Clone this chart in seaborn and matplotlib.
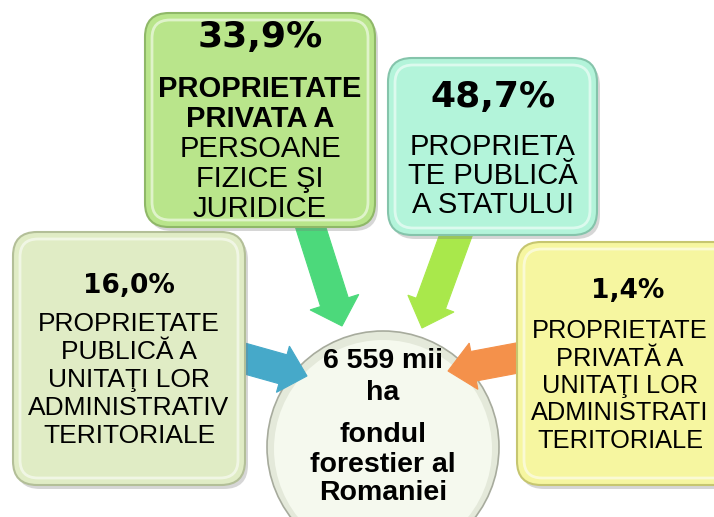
"""
Structura proprietatii fondului forestier al Romaniei - diagrama cu casete si sageti.
"""

import matplotlib.pyplot as plt
import seaborn as sns
from matplotlib.patches import FancyBboxPatch, FancyArrow, Ellipse

OUT_PATH = "out.png"

# data
percentages = ["33,9%", "48,7%", "16,0%", "1,4%"]
box_lines = [
    ["PROPRIETATE", "PRIVATA A", "PERSOANE", "FIZICE ŞI", "JURIDICE"],
    ["PROPRIETA", "TE PUBLICĂ", "A STATULUI"],
    ["PROPRIETATE", "PUBLICĂ A", "UNITAŢI LOR", "ADMINISTRATIV", "TERITORIALE"],
    ["PROPRIETATE", "PRIVATĂ A", "UNITAŢI LOR", "ADMINISTRATI", "TERITORIALE"],
]
bold_lines = [2, 0, 0, 0]   # how many leading lines are bold in each box
center_lines = ["6 559 mii", "ha", "fondul", "forestier al", "Romaniei"]

# layout (pixels, y downwards)
box_xy = [(145, 13, 230, 214), (388, 58, 209, 177), (13, 232, 232, 253), (517, 242, 226, 243)]
text_cx = [260, 492.5, 129, 620]
box_colors = ["#b9e58b", "#b3f4da", "#e0ecc5", "#f6f6a0"]
box_edges = ["#8fb868", "#85c4ab", "#b3bf98", "#c6c670"]
pct_base = [47, 107, 293, 298]
pct_size = [26, 26, 19, 19]
line_base = [97, 155, 331, 338]
line_step = [30, 29, 28, 27.5]
line_size = [21, 21, 19, 18.3]

arrows = [  # tail, tip, color, shaft width, head width, head length
    ((302, 200), (342, 326), "#4cd97b", 29, 51, 25),
    ((464, 213), (422, 328), "#a9e84b", 31, 49, 26),
    ((225, 353), (307, 376), "#46a9c9", 30, 48, 25),
    ((560, 350), (448, 371), "#f4914b", 30, 47, 26),
]
center_base = [368, 400, 442, 472, 500]

sns.set_theme(style="white")
plt.rcParams["font.family"] = ["Liberation Sans", "DejaVu Sans"]
plt.rcParams["text.color"] = "black"

fig = plt.figure(figsize=(7.14, 5.17), dpi=100)
ax = fig.add_axes([0, 0, 1, 1])
ax.set_xlim(0, 714)
ax.set_ylim(517, 0)
ax.axis("off")

# central circle
ax.add_patch(Ellipse((383, 447), 232, 232, facecolor="#e4e9da", edgecolor="#a7ab9d", lw=1.2, zorder=1))
ax.add_patch(Ellipse((383, 449), 218, 218, facecolor="#f5f9ee", edgecolor="none", zorder=1))
for txt, yb in zip(center_lines, center_base):
    ax.text(383, yb, txt, ha="center", va="baseline", fontsize=20.5, fontweight="bold",
            color="black", zorder=5)

# arrows
for (x0, y0), (x1, y1), col, w, hw, hl in arrows:
    ax.add_patch(FancyArrow(x0, y0, x1 - x0, y1 - y0, width=w, head_width=hw, head_length=hl,
                            length_includes_head=True, facecolor=col, edgecolor=col, lw=0.8, zorder=2))

# boxes
for i, (x, y, w, h) in enumerate(box_xy):
    ax.add_patch(FancyBboxPatch((x + 3, y + 4), w, h, boxstyle="round,pad=0,rounding_size=24",
                                facecolor="#7a7a7a", alpha=0.3, edgecolor="none", zorder=3))
    ax.add_patch(FancyBboxPatch((x, y), w, h, boxstyle="round,pad=0,rounding_size=24",
                                facecolor=box_colors[i], edgecolor=box_edges[i], lw=1.5, zorder=3))
    ax.add_patch(FancyBboxPatch((x + 7, y + 7), w - 14, h - 14, boxstyle="round,pad=0,rounding_size=18",
                                facecolor="none", edgecolor="white", alpha=0.55, lw=2, zorder=3))

    cx = text_cx[i]
    ax.text(cx + (8 if i == 3 else 0), pct_base[i], percentages[i], ha="center", va="baseline",
            fontsize=pct_size[i], fontweight="bold", family="DejaVu Sans", color="black", zorder=5)
    for j, line in enumerate(box_lines[i]):
        ax.text(cx, line_base[i] + j * line_step[i], line, ha="center", va="baseline",
                fontsize=line_size[i], fontweight="bold" if j < bold_lines[i] else "normal",
                color="black", zorder=5)

fig.savefig(OUT_PATH, dpi=100)
